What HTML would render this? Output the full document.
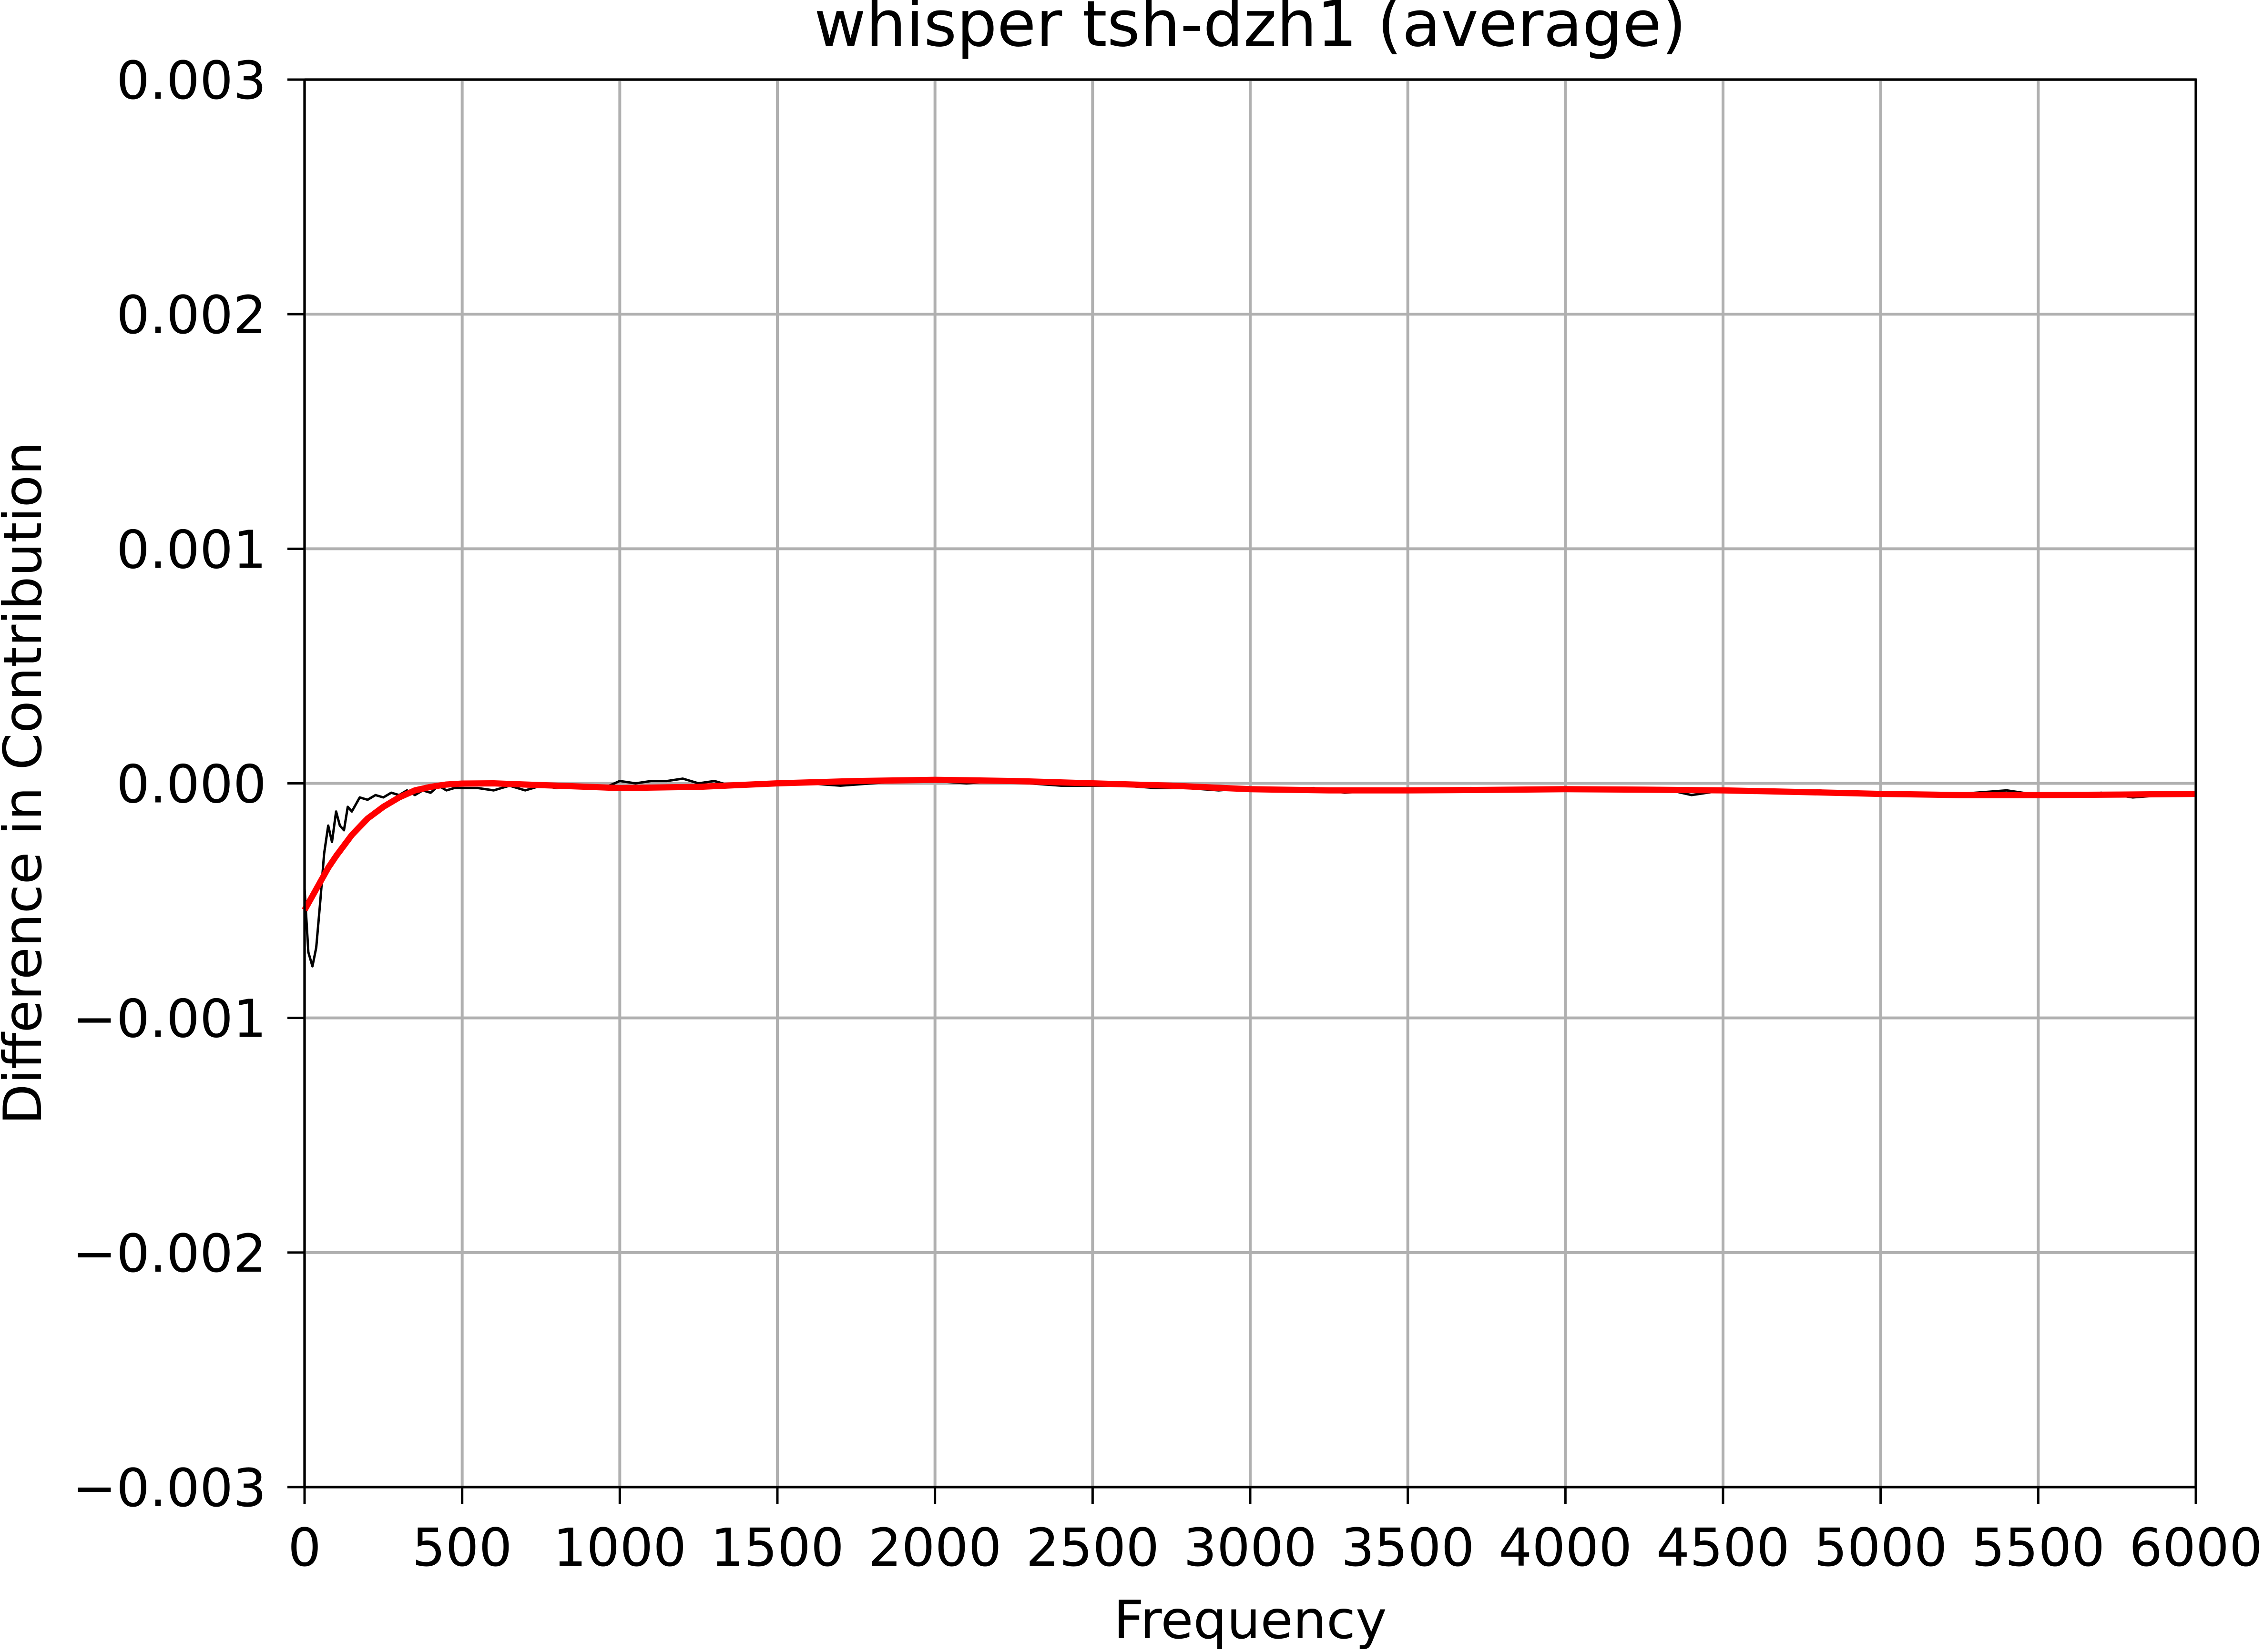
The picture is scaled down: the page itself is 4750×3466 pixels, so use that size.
<!DOCTYPE html>
<html><head><meta charset="utf-8"><style>
html,body{margin:0;padding:0;background:#fff;}
svg text{font-family:"DejaVu Sans","Liberation Sans",sans-serif;fill:#000;}
</style></head><body>
<svg id="chart" width="4750" height="3461" viewBox="0 0 4750 3461" xmlns="http://www.w3.org/2000/svg">
<rect width="4750" height="3461" fill="#fff"/>
<g id="grid"></g>
<g id="series"></g>
<rect x="639" y="167" width="3968" height="2953" fill="none" stroke="#000" stroke-width="5"/>
<g id="ticks"></g>
<text x="2623" y="96" font-size="133" text-anchor="middle">whisper tsh-dzh1 (average)</text>
<text x="2623" y="3437" font-size="111" text-anchor="middle">Frequency</text>
<text x="0" y="0" font-size="111" text-anchor="middle" transform="translate(86,1643) rotate(-90)">Difference in Contribution</text>
</svg>
<script>
const xTicks=[0,500,1000,1500,2000,2500,3000,3500,4000,4500,5000,5500,6000];
const yTicks=[0.003,0.002,0.001,0,-0.001,-0.002,-0.003];
const yTickLabels=["0.003","0.002","0.001","0.000","\u22120.001","\u22120.002","\u22120.003"];
const rawFreq=[0,12,25,37,50,62,75,87,100,112,125,137,150,175,200,225,250,275,300,325,350,375,400,425,450,475,500,550,600,650,700,750,800,850,900,950,1000,1050,1100,1150,1200,1250,1300,1350,1400,1500,1600,1700,1800,1900,2000,2100,2200,2300,2400,2500,2600,2700,2800,2900,3000,3100,3200,3300,3400,3500,3600,3700,3800,3900,4000,4100,4200,4300,4400,4500,4600,4700,4800,4900,5000,5100,5200,5300,5400,5500,5600,5700,5800,5900,6000];
const rawVals=[-0.00045,-0.00072,-0.00078,-0.0007,-0.0005,-0.0003,-0.00018,-0.00025,-0.00012,-0.00018,-0.0002,-0.0001,-0.00012,-0.00006,-0.00007,-0.00005,-0.00006,-0.00004,-0.00005,-0.00003,-0.00005,-0.00003,-0.00004,-0.00001,-0.00003,-0.00002,-0.00002,-0.00002,-0.00003,-0.00001,-0.00003,-0.00001,-0.00002,-0.00001,-0.00002,-0.00002,0.00001,0.0,0.00001,0.00001,0.00002,0.0,0.00001,-0.00001,0.0,0.0,0.0,-0.00001,0.0,0.00001,0.00001,0.0,0.00001,0.0,-0.00001,-0.00001,-0.00001,-0.00002,-0.00002,-0.00003,-0.00002,-0.00003,-0.00002,-0.00004,-0.00003,-0.00003,-0.00003,-0.00002,-0.00003,-0.00003,-0.00002,-0.00003,-0.00003,-0.00002,-0.00005,-0.00003,-0.00003,-0.00004,-0.00003,-0.00004,-0.00004,-0.00004,-0.00005,-0.00004,-0.00003,-0.00005,-0.00005,-0.00004,-0.00006,-0.00005,-0.00004];
const fitFreq=[0,25,50,75,100,150,200,250,300,350,400,450,500,600,700,800,1000,1250,1500,1750,2000,2250,2500,2750,3000,3250,3500,3750,4000,4250,4500,4750,5000,5250,5500,5750,6000];
const fitVals=[-0.00054,-0.00048,-0.00042,-0.00036,-0.00031,-0.00022,-0.00015,-0.0001,-0.00006,-0.00003,-0.000015,-0.000005,-0.000001,0.0,-0.000005,-0.00001,-0.00002,-0.000015,0.0,0.00001,0.000015,0.00001,0.0,-0.00001,-0.000025,-0.00003,-0.00003,-0.000028,-0.000025,-0.000027,-0.00003,-0.000037,-0.000045,-0.00005,-0.00005,-0.000048,-0.000045];
const L=639,R=4607,T=167,B=3120;
const sx=v=>L+(v-0)/(6000-0)*(R-L);
const sy=v=>B-(v+0.003)/0.006*(B-T);
const NS="http://www.w3.org/2000/svg";
const grid=document.getElementById('grid'),ticks=document.getElementById('ticks'),series=document.getElementById('series');
function mk(tag,attrs,parent){const e=document.createElementNS(NS,tag);for(const k in attrs)e.setAttribute(k,attrs[k]);parent.appendChild(e);return e;}
xTicks.forEach(v=>{
  const x=sx(v);
  const g=mk('line',{x1:x,x2:x,y1:T,y2:B,stroke:'#b0b0b0','stroke-width':6},grid);
  
  
  const t=mk('line',{x1:x,x2:x,y1:B,y2:B+36,stroke:'#000','stroke-width':5},ticks);
  
  
  const lb=mk('text',{x:x,y:B+165,'font-size':110,'text-anchor':'middle'},ticks);
  lb.textContent=String(v);
  
  
});
yTicks.forEach((v,i)=>{
  const y=sy(v);
  const g=mk('line',{x1:L,x2:R,y1:y,y2:y,stroke:'#b0b0b0','stroke-width':6},grid);
  
  
  const t=mk('line',{x1:L-36,x2:L,y1:y,y2:y,stroke:'#000','stroke-width':5},ticks);
  
  
  const lb=mk('text',{x:L-80,y:y+40,'font-size':110,'text-anchor':'end'},ticks);
  lb.textContent=yTickLabels[i];
  
  
});
const raw=mk('polyline',{points:rawFreq.map((f,i)=>sx(f)+','+sy(rawVals[i])).join(' '),fill:'none',stroke:'#000','stroke-width':5,'stroke-linejoin':'round'},series);


const fit=mk('polyline',{points:fitFreq.map((f,i)=>sx(f)+','+sy(fitVals[i])).join(' '),fill:'none',stroke:'#ff0000','stroke-width':13,'stroke-linejoin':'round','stroke-linecap':'butt'},series);


</script>
</body></html>
